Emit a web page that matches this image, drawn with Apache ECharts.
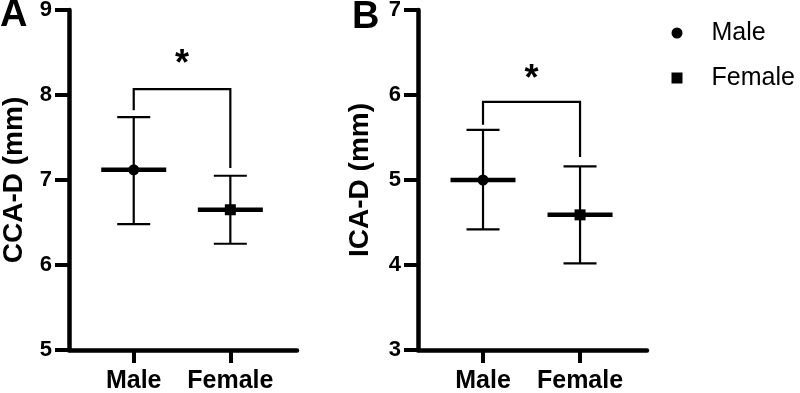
<!DOCTYPE html>
<html><head><meta charset="utf-8">
<script src="https://cdn.jsdelivr.net/npm/echarts@6/dist/echarts.min.js"></script>
<style>html,body{margin:0;padding:0;background:#fff}#c{width:800px;height:393px}</style>
</head><body><div id="c"></div>
<script>
// ---- data ----
const categories = ['Male', 'Female'];
const catPos = [1, 2];
const ccaMean = [7.12, 6.65];
const ccaLower = [6.48, 6.25];
const ccaUpper = [7.74, 7.05];
const icaMean = [5.00, 4.59];
const icaLower = [4.42, 4.02];
const icaUpper = [5.59, 5.16];
// bracket: [top, left leg end, right leg end]
const ccaBracket = [8.07, 7.82, 7.14];
const icaBracket = [5.92, 5.65, 5.27];
const ccaStarY = 8.35;
const icaStarY = 6.18;
const ccaTicks = [5, 6, 7, 8, 9];
const icaTicks = [3, 4, 5, 6, 7];
const ccaName = 'CCA-D (mm)';
const icaName = 'ICA-D (mm)';

const FONT = '"Liberation Sans", Arial, Helvetica, sans-serif';
const BLACK = '#000';

function makeErr(symbol) {
  return function (params, api) {
    const x = api.value(0), m = api.value(1), lo = api.value(2), hi = api.value(3);
    const pm = api.coord([x, m]), pl = api.coord([x, lo]), ph = api.coord([x, hi]);
    const capW = 16.5, meanW = 32.5;
    const st = { stroke: BLACK, lineWidth: 2.2 };
    const children = [
      { type: 'line', shape: { x1: pm[0], y1: ph[1], x2: pm[0], y2: pl[1] }, style: st },
      { type: 'line', shape: { x1: pm[0] - capW, y1: ph[1], x2: pm[0] + capW, y2: ph[1] }, style: st },
      { type: 'line', shape: { x1: pm[0] - capW, y1: pl[1], x2: pm[0] + capW, y2: pl[1] }, style: st },
      { type: 'line', shape: { x1: pm[0] - meanW, y1: pm[1], x2: pm[0] + meanW, y2: pm[1] }, style: { stroke: BLACK, lineWidth: 4.5 } }
    ];
    if (symbol === 'circle') {
      children.push({ type: 'circle', shape: { cx: pm[0], cy: pm[1], r: 5.5 }, style: { fill: BLACK } });
    } else {
      children.push({ type: 'rect', shape: { x: pm[0] - 5.5, y: pm[1] - 5.5, width: 11, height: 11 }, style: { fill: BLACK } });
    }
    return { type: 'group', children: children };
  };
}

function renderBracket(params, api) {
  const x1 = api.value(0), x2 = api.value(1), top = api.value(2), le = api.value(3), re = api.value(4), sy = api.value(5);
  const a = api.coord([x1, le]), b = api.coord([x1, top]), c = api.coord([x2, top]), d = api.coord([x2, re]);
  const s = api.coord([(x1 + x2) / 2, sy]);
  return {
    type: 'group',
    children: [
      { type: 'polyline', shape: { points: [a, b, c, d] }, style: { stroke: BLACK, lineWidth: 2.2, fill: null } },
      { type: 'text', x: s[0], y: s[1], style: { text: '*', font: 'bold 36px ' + FONT, fill: BLACK, align: 'center', verticalAlign: 'middle' } }
    ]
  };
}

function yAxis(idx, ticks, name, gap) {
  return {
    type: 'value', gridIndex: idx, min: ticks[0], max: ticks[ticks.length - 1], interval: 1,
    name: name, nameLocation: 'middle', nameGap: gap,
    nameTextStyle: { fontFamily: FONT, fontSize: 28, fontWeight: 'bold', color: BLACK },
    axisLine: { show: true, lineStyle: { color: BLACK, width: 4.5 } },
    axisTick: { show: true, length: 14, lineStyle: { color: BLACK, width: 4 } },
    axisLabel: { fontFamily: FONT, fontSize: 22, fontWeight: 'bold', color: BLACK, margin: 17 },
    splitLine: { show: false }
  };
}
function xAxis(idx) {
  return {
    type: 'value', gridIndex: idx, min: 0.33, max: 2.69,
    axisLine: { show: true, onZero: false, lineStyle: { color: BLACK, width: 4.5 } },
    axisTick: { show: true, length: 13, customValues: catPos, lineStyle: { color: BLACK, width: 4 } },
    axisLabel: {
      customValues: catPos, fontFamily: FONT, fontSize: 25, fontWeight: 'bold', color: BLACK, margin: 19,
      formatter: function (v) { return categories[Math.round(v) - 1]; }
    },
    splitLine: { show: false }
  };
}
function errData(mean, lo, hi) {
  return catPos.map((x, i) => [x, mean[i], lo[i], hi[i]]);
}

const chart = echarts.init(document.getElementById('c'), null, { renderer: 'canvas' });
chart.setOption({
  backgroundColor: '#fff',
  animation: false,
  grid: [
    { left: 69, top: 10, width: 228, height: 340, containLabel: false, outerBoundsMode: 'none' },
    { left: 418, top: 10, width: 229, height: 340, containLabel: false, outerBoundsMode: 'none' }
  ],
  xAxis: [xAxis(0), xAxis(1)],
  yAxis: [yAxis(0, ccaTicks, ccaName, 41), yAxis(1, icaTicks, icaName, 44)],
  legend: {
    orient: 'vertical', left: 666.5, top: 15.5, itemWidth: 11, itemHeight: 11, itemGap: 20,
    selectedMode: false,
    textStyle: { fontFamily: FONT, fontSize: 25, color: BLACK, padding: [0, 0, 0, 24] },
    data: [{ name: 'Male', icon: 'circle' }, { name: 'Female', icon: 'rect' }]
  },
  graphic: [
    { type: 'text', left: 0, top: -3, style: { text: 'A', font: 'bold 38px ' + FONT, fill: BLACK } },
    { type: 'text', left: 352, top: -1, style: { text: 'B', font: 'bold 38px ' + FONT, fill: BLACK } }
  ],
  series: [
    { type: 'custom', name: 'Male', xAxisIndex: 0, yAxisIndex: 0, itemStyle: { color: BLACK }, clip: false,
      renderItem: makeErr('circle'), encode: { x: 0, y: [1, 2, 3] }, data: [errData(ccaMean, ccaLower, ccaUpper)[0]] },
    { type: 'custom', name: 'Female', xAxisIndex: 0, yAxisIndex: 0, itemStyle: { color: BLACK }, clip: false,
      renderItem: makeErr('rect'), encode: { x: 0, y: [1, 2, 3] }, data: [errData(ccaMean, ccaLower, ccaUpper)[1]] },
    { type: 'custom', name: 'Male', xAxisIndex: 1, yAxisIndex: 1, itemStyle: { color: BLACK }, clip: false,
      renderItem: makeErr('circle'), encode: { x: 0, y: [1, 2, 3] }, data: [errData(icaMean, icaLower, icaUpper)[0]] },
    { type: 'custom', name: 'Female', xAxisIndex: 1, yAxisIndex: 1, itemStyle: { color: BLACK }, clip: false,
      renderItem: makeErr('rect'), encode: { x: 0, y: [1, 2, 3] }, data: [errData(icaMean, icaLower, icaUpper)[1]] },
    { type: 'custom', name: 'sigA', xAxisIndex: 0, yAxisIndex: 0, clip: false, renderItem: renderBracket,
      encode: { x: [0, 1], y: [2, 3, 4, 5] }, data: [[catPos[0], catPos[1], ccaBracket[0], ccaBracket[1], ccaBracket[2], ccaStarY]] },
    { type: 'custom', name: 'sigB', xAxisIndex: 1, yAxisIndex: 1, clip: false, renderItem: renderBracket,
      encode: { x: [0, 1], y: [2, 3, 4, 5] }, data: [[catPos[0], catPos[1], icaBracket[0], icaBracket[1], icaBracket[2], icaStarY]] }
  ]
});
</script>
</body></html>
